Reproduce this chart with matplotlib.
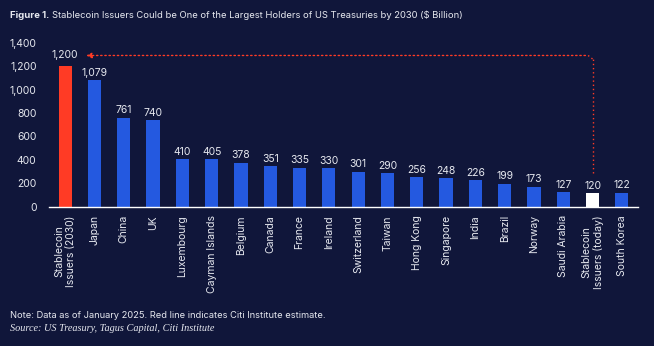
import matplotlib

matplotlib.use("Agg")
import matplotlib.pyplot as plt
from matplotlib.patches import FancyArrowPatch

# data
labels = [
    "Stablecoin\nIssuers (2030)", "Japan", "China", "UK", "Luxembourg",
    "Cayman Islands", "Belgium", "Canada", "France", "Ireland",
    "Switzerland", "Taiwan", "Hong Kong", "Singapore", "India",
    "Brazil", "Norway", "Saudi Arabia", "Stablecoin\nIssuers (today)", "South Korea",
]
values = [1200, 1079, 761, 740, 410, 405, 378, 351, 335, 330,
          301, 290, 256, 248, 226, 199, 173, 127, 120, 122]
y_ticks = [0, 200, 400, 600, 800, 1000, 1200, 1400]

BG = "#10163a"
BLUE = "#2459e0"
RED = "#ff3b25"
WHITE = "#ffffff"
TEXT = "#e6e8ef"

plt.rcParams["font.family"] = ["Inter", "DejaVu Sans"]

colors = [BLUE] * len(values)
colors[0] = RED
colors[labels.index("Stablecoin\nIssuers (today)")] = WHITE

fig = plt.figure(figsize=(6.54, 3.46), dpi=100, facecolor=BG)
ax = fig.add_axes([0.075, 0.402, 0.9005, 0.475], facecolor=BG)

x = list(range(len(values)))
ax.bar(x, values, width=0.45, color=colors, zorder=2)

for xi, v in zip(x, values):
    if xi == 0:
        continue
    ax.text(xi, v + 18, f"{v:,}", ha="center", va="bottom", color=TEXT, fontsize=7.5)

# the 2030 estimate label sits beside the arrow
ax.text(0, 1290, "1,200", ha="center", va="center", color=TEXT, fontsize=7.5)

# dotted red connector from today's stablecoin bar to the 2030 bar
today = labels.index("Stablecoin\nIssuers (today)")
ax.plot([today, today], [290, 1260], color=RED, lw=1.0, ls=(0, (1, 2)), zorder=3)
ax.plot([today - 0.15, today], [1290, 1260], color=RED, lw=1.0, ls=(0, (1, 2)), zorder=3)
arrow = FancyArrowPatch((today - 0.15, 1290), (0.62, 1290), arrowstyle="-|>",
                        mutation_scale=8, color=RED, lw=1.0, ls=(0, (1, 2)), zorder=3)
ax.add_patch(arrow)

ax.set_xlim(-0.55, len(values) - 0.45)
ax.set_ylim(0, 1400)
ax.set_yticks(y_ticks)
ax.set_yticklabels([f"{t:,}" for t in y_ticks])
ax.set_xticks(x)
ax.set_xticklabels(labels, rotation=90, va="top", ha="center", linespacing=1.2)
ax.tick_params(axis="both", length=0, colors=TEXT, labelsize=7.5)
ax.tick_params(axis="y", pad=9)
ax.tick_params(axis="x", pad=6)

for side in ["top", "right", "left"]:
    ax.spines[side].set_visible(False)
ax.spines["bottom"].set_color(WHITE)
ax.spines["bottom"].set_linewidth(1.0)

fig.text(0.015, 0.955, "Figure 1.", color=TEXT, fontsize=6.9, fontweight="bold", va="center")
fig.text(0.080, 0.955, "Stablecoin Issuers Could be One of the Largest Holders of US Treasuries by 2030 ($ Billion)",
         color=TEXT, fontsize=6.8, va="center")
fig.text(0.015, 0.087, "Note: Data as of January 2025. Red line indicates Citi Institute estimate.",
         color=TEXT, fontsize=6.7, va="center")
fig.text(0.015, 0.052, "Source: US Treasury, Tagus Capital, Citi Institute",
         color=TEXT, fontsize=7.4, va="center", family="Liberation Serif", style="italic")

fig.savefig("out.png", dpi=100, facecolor=BG)
